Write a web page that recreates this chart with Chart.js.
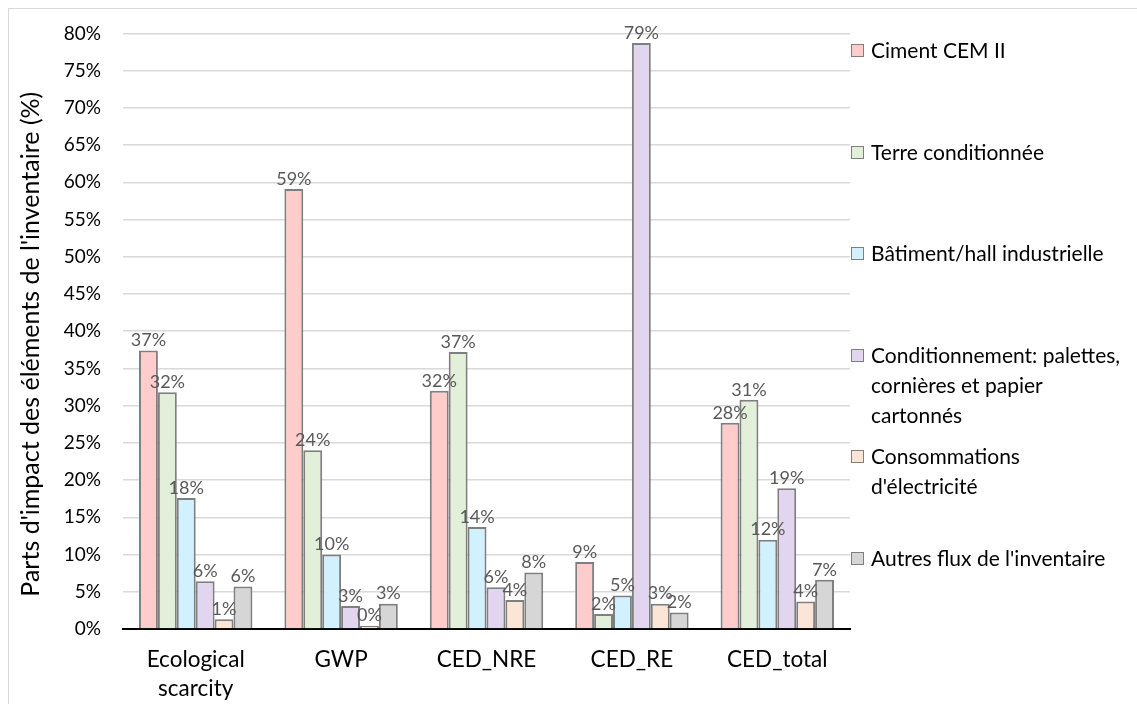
<!DOCTYPE html>
<html>
<head>
<meta charset="utf-8">
<script src="https://cdn.jsdelivr.net/npm/chart.js@4.4.1/dist/chart.umd.min.js"></script>
<style>
  html, body { margin: 0; padding: 0; background: #fff; }
  #wrap { position: relative; width: 1137px; height: 704px; overflow: hidden; }
  #frame { position: absolute; left: 8px; top: 8px; width: 1200px; height: 800px; border: 1.5px solid #d9d9d9; box-sizing: border-box; }
  #chartBox { position: absolute; left: 0; top: 0; width: 1137px; height: 704px; }
  #legend { position: absolute; left: 851px; top: 0; width: 286px; font-family: Lato, "Open Sans", sans-serif; font-size: 21px; color: #000; }
  .item { position: absolute; left: 0; display: flex; align-items: flex-start; }
  .box { width: 11px; height: 11px; border: 1.5px solid #7f7f7f; margin-top: 9px; margin-right: 7px; flex: none; }
  .txt { line-height: 30px; white-space: nowrap; }
</style>
</head>
<body>
<div id="wrap">
  <div id="frame"></div>
  <div id="chartBox"><canvas id="c"></canvas></div>
  <div id="legend"></div>
</div>
<script>
// ---- Data ----
const categories = [['Ecological', 'scarcity'], 'GWP', 'CED_NRE', 'CED_RE', 'CED_total'];
const seriesNames = [
  ['Ciment CEM II'],
  ['Terre conditionnée'],
  ['Bâtiment/hall industrielle'],
  ['Conditionnement: palettes,', 'cornières et papier', 'cartonnés'],
  ['Consommations', "d'électricité"],
  ["Autres flux de l'inventaire"]
];
const cimentValues        = [37.4, 59.1, 32.0, 9.0, 27.7];
const terreValues         = [31.8, 24.0, 37.2, 2.0, 30.8];
const batimentValues      = [17.6, 10.0, 13.7, 4.5, 12.0];
const conditionnementVals = [6.4, 3.1, 5.6, 78.7, 18.9];
const electriciteValues   = [1.3, 0.45, 3.9, 3.4, 3.7];
const autresValues        = [5.7, 3.4, 7.6, 2.2, 6.6];
const seriesValues = [cimentValues, terreValues, batimentValues, conditionnementVals, electriciteValues, autresValues];
const yTickMax = 80, yTickStep = 5;
const yTitle = "Parts d'impact des éléments de l'inventaire (%)";

// ---- Styles ----
const fillColors = ['#ffcccc', '#e2efd9', '#d1f1fe', '#e2d5f0', '#fbe5d6', '#d6d6d6'];
const borderColor = '#7f7f7f';
const FONT = 'Lato, "Open Sans", sans-serif';

const datasets = seriesValues.map((vals, i) => ({
  label: seriesNames[i].join(' '),
  data: vals,
  backgroundColor: fillColors[i],
  borderColor: borderColor,
  borderWidth: 2,
  categoryPercentage: 0.78,
  barPercentage: 1.0
}));

const valueLabels = {
  id: 'valueLabels',
  afterDatasetsDraw(chart) {
    const ctx = chart.ctx;
    ctx.save();
    ctx.font = '18px ' + FONT;
    ctx.fillStyle = '#595959';
    ctx.textAlign = 'center';
    ctx.textBaseline = 'bottom';
    chart.data.datasets.forEach((ds, di) => {
      const meta = chart.getDatasetMeta(di);
      meta.data.forEach((el, j) => {
        ctx.fillText(Math.round(ds.data[j]) + '%', el.x, el.y - 1);
      });
    });
    ctx.restore();
  }
};

const yTitlePlugin = {
  id: 'yTitlePlugin',
  afterDraw(chart) {
    const ctx = chart.ctx;
    const a = chart.chartArea;
    ctx.save();
    ctx.font = '25px ' + FONT;
    ctx.fillStyle = '#000';
    ctx.textAlign = 'center';
    ctx.textBaseline = 'middle';
    ctx.translate(31, (a.top + a.bottom) / 2 + 13);
    ctx.rotate(-Math.PI / 2);
    ctx.fillText(yTitle, 0, 0);
    ctx.restore();
  }
};

new Chart(document.getElementById('c'), {
  type: 'bar',
  data: { labels: categories, datasets },
  plugins: [valueLabels, yTitlePlugin],
  options: {
    responsive: true,
    maintainAspectRatio: false,
    animation: false,
    layout: { padding: { top: 28, right: 287, bottom: 0, left: 0 } },
    plugins: { legend: { display: false }, tooltip: { enabled: false } },
    scales: {
      x: {
        grid: { display: false, drawTicks: false },
        border: { display: true, color: '#000', width: 2 },
        ticks: { color: '#000', font: { family: FONT, size: 22.5, lineHeight: 1.3 }, padding: 16, maxRotation: 0, autoSkip: false },
        afterFit(scale) { scale.height = 75; }
      },
      y: {
        min: 0, max: yTickMax,
        grid: { color: '#d9d9d9', lineWidth: 1.5, drawTicks: false },
        border: { display: false },
        ticks: { stepSize: yTickStep, color: '#000', padding: 22, font: { family: FONT, size: 19 }, callback: v => v + '%' },
        afterFit(scale) { scale.width = 123; }
      }
    }
  }
});

// ---- Legend (HTML, built from series names) ----
const legend = document.getElementById('legend');
seriesNames.forEach((lines, i) => {
  const item = document.createElement('div');
  item.className = 'item';
  item.style.top = (35 + i * 101.6) + 'px';
  const box = document.createElement('div');
  box.className = 'box';
  box.style.background = fillColors[i];
  const txt = document.createElement('div');
  txt.className = 'txt';
  txt.innerHTML = lines.map(s => s.replace(/&/g, '&amp;').replace(/</g, '&lt;')).join('<br>');
  item.appendChild(box);
  item.appendChild(txt);
  legend.appendChild(item);
});
</script>
</body>
</html>
